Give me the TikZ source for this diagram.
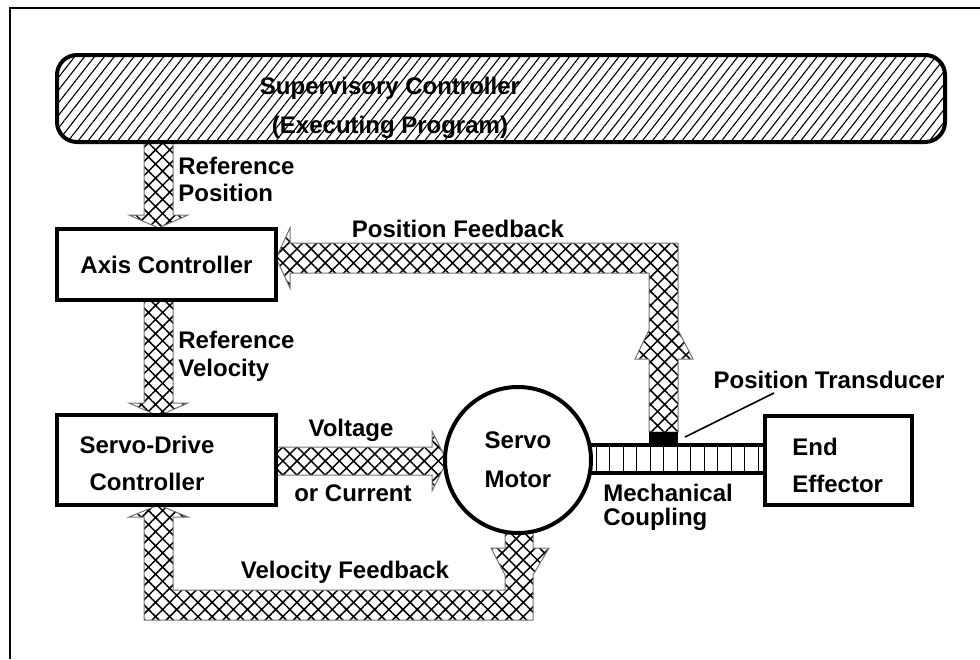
\documentclass[tikz,border=0pt]{standalone}
\usepackage{fontspec}
\setmainfont{Liberation Sans}
\usetikzlibrary{patterns.meta}

\begin{document}
\begin{tikzpicture}[x=0.5pt,y=-0.5pt,
  lbl/.style={font=\bfseries\fontsize{12}{14}\selectfont, inner sep=0pt},
  blk/.style={draw, line width=2pt, fill=white, inner sep=0pt},
  flow/.style={draw=black!55, line width=0.5pt,
    pattern={Hatch[angle=45,distance=5pt,line width=0.75pt]}},
  slant/.style={pattern={Lines[angle=52,distance=3.9pt,line width=0.55pt]}},
]
\useasboundingbox (0,0) rectangle (980,659);

% page frame (top and left edges)
\draw[line width=1.25pt] (980,8) -- (10,8) -- (10,659);

% signal flows (cross-hatched broad arrows)
% reference position: supervisor -> axis controller
\draw[flow] (144,142) -- (144,215) -- (129,215) -- (158.5,228) -- (188,215)
  -- (173,215) -- (173,142) -- cycle;
% reference velocity: axis controller -> servo drive
\draw[flow] (144,300) -- (144,403) -- (129,403) -- (158.5,416) -- (188,403)
  -- (173,403) -- (173,300) -- cycle;
% voltage or current: servo drive -> motor
\draw[flow] (276,447) -- (432,447) -- (432,431) -- (447,461) -- (432,491)
  -- (432,475) -- (276,475) -- cycle;
% position feedback: transducer -> axis controller
\draw[flow] (649,432) -- (649,359) -- (635,359) -- (649,330) -- (649,273)
  -- (290,273) -- (290,288) -- (276,258) -- (290,228) -- (290,243)
  -- (678,243) -- (678,330) -- (693,359) -- (678,359) -- (678,432) -- cycle;
% velocity feedback: motor -> servo drive
\draw[flow] (505,528) -- (505,548) -- (491,548) -- (505,575) -- (505,590)
  -- (173,590) -- (173,517) -- (188,517) -- (158.5,505) -- (129,517)
  -- (144,517) -- (144,620) -- (533,620) -- (533,575) -- (549,548)
  -- (533,548) -- (533,528) -- cycle;

% mechanical coupling (shaft with ribs)
\draw[line width=2pt] (588,445) -- (765,445);
\draw[line width=2pt] (588,473) -- (765,473);
\foreach \i in {0,...,12}
  \draw[line width=0.5pt] ({596+13.5*\i},445) -- ({596+13.5*\i},473);
% position transducer block
\fill (649,432) rectangle (678,445);

% supervisory controller (text under the slanted hatching)
\node[lbl, align=center, font=\bfseries\fontsize{12}{19.5}\selectfont]
  (suptext) at (390,107.5) {Supervisory Controller\\(Executing Program)};
\node[draw, line width=2pt, rounded corners=10pt, slant,
  minimum width=444pt, minimum height=43.5pt] (sup) at (501,98.5) {};

% blocks
\node[blk, minimum width=109.5pt, minimum height=35.5pt, lbl]
  (axis) at (166.5,264.5) {Axis Controller};
\node[blk, minimum width=109.5pt, minimum height=45pt] (drive) at (166.5,460) {};
\node[lbl, align=center, font=\bfseries\fontsize{12}{18.5}\selectfont]
  (drivetext) at (147,463.5) {Servo-Drive\\Controller};
\node[blk, circle, minimum size=73pt, lbl, align=center,
  font=\bfseries\fontsize{12}{19.5}\selectfont] (motor) at (518,460) {Servo\\Motor};
\node[blk, minimum width=73.5pt, minimum height=44.5pt] (eff) at (838.5,460.5) {};
\node[lbl, anchor=west, align=left, font=\bfseries\fontsize{12}{18.5}\selectfont]
  (efftext) at (792,465.5) {End\\Effector};

% labels
\node[lbl, anchor=west, align=left, font=\bfseries\fontsize{12}{13.5}\selectfont]
  (refpos) at (178,179.5) {Reference\\Position};
\node[lbl, anchor=west, align=left, font=\bfseries\fontsize{12}{14}\selectfont]
  (refvel) at (178,356) {Reference\\Velocity};
\node[lbl] (posfb) at (458,229) {Position Feedback};
\node[lbl] (velfb) at (345,572) {Velocity Feedback};
\node[lbl] (volt) at (351,430) {Voltage};
\node[lbl] (curr) at (353,493) {or Current};
\node[lbl, anchor=west, align=left, font=\bfseries\fontsize{12}{12}\selectfont]
  (mech) at (603,507) {Mechanical\\Coupling};
\node[lbl] (ptlbl) at (829,380) {Position Transducer};

% leader from the transducer label
\coordinate (tdtip) at (685,437);
\coordinate (ptend) at (774,393);
\draw[line width=0.8pt] (tdtip) -- (ptend);
\end{tikzpicture}
\end{document}
